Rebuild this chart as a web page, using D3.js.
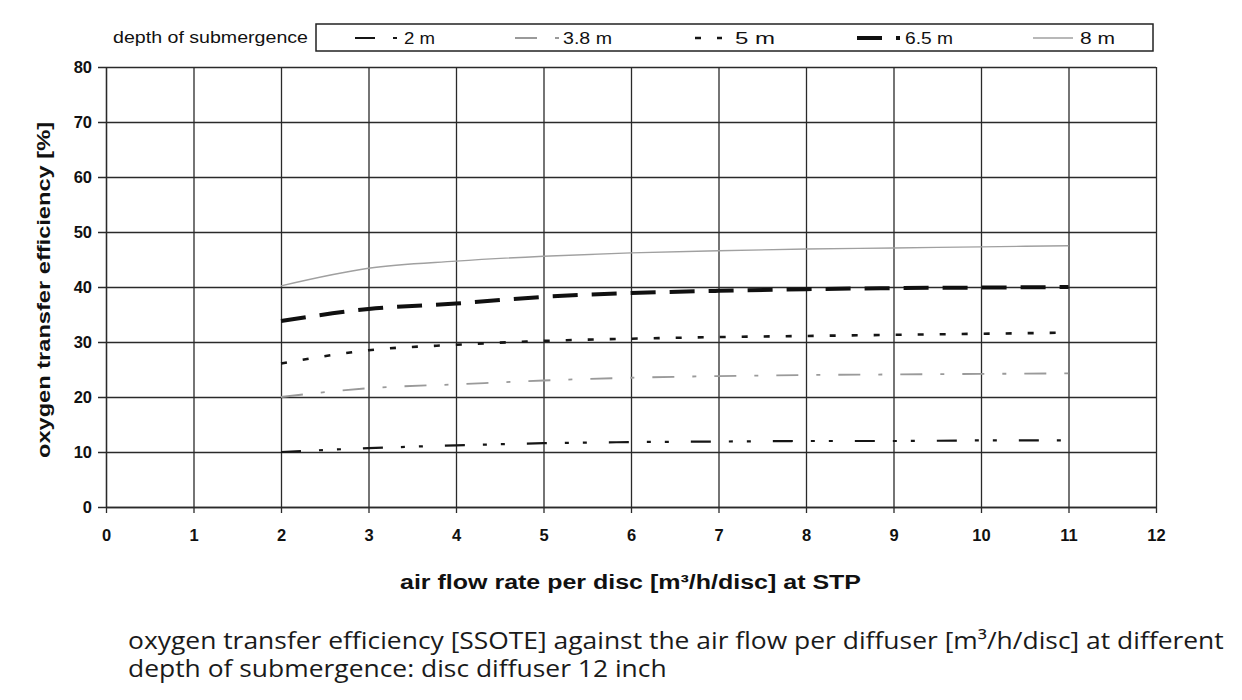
<!DOCTYPE html>
<html lang="en">
<head>
<meta charset="UTF-8">
<title>Oxygen transfer efficiency</title>
<script src="https://d3js.org/d3.v7.min.js"></script>
<style>
  body { margin: 0; background: #fff; }
  svg { display: block; background: #fff; }
</style>
</head>
<body>
<svg id="chart" width="1242" height="700"></svg>
<script>
// data
const airFlow = [2, 3, 4, 5, 6, 7, 8, 9, 10, 11];
const depth2 = [10.0, 10.7, 11.2, 11.6, 11.8, 11.9, 12.0, 12.0, 12.1, 12.1];
const depth38 = [20.0, 21.6, 22.3, 23.0, 23.5, 23.8, 24.0, 24.1, 24.2, 24.3];
const depth5 = [26.1, 28.5, 29.5, 30.2, 30.6, 30.9, 31.1, 31.3, 31.5, 31.7];
const depth65 = [33.8, 36.0, 37.0, 38.2, 38.9, 39.3, 39.6, 39.8, 39.9, 40.0];
const depth8 = [40.2, 43.4, 44.7, 45.6, 46.2, 46.6, 46.9, 47.1, 47.3, 47.5];
const seriesNames = ["2 m", "3.8 m", "5 m", "6.5 m", "8 m"];
const xTicks = d3.range(0, 13, 1);
const yTicks = d3.range(0, 81, 10);

const styles = {
  "2 m":   { color: "#151515", width: 2.2, dash: "20,18,4,14,4,22" },
  "3.8 m": { color: "#9a9a9a", width: 1.8, dash: "22,18,4,18" },
  "5 m":   { color: "#151515", width: 2.6, dash: "6,16" },
  "6.5 m": { color: "#101010", width: 4,   dash: "25,14" },
  "8 m":   { color: "#a0a0a0", width: 1.4, dash: null }
};

const series = [depth2, depth38, depth5, depth65, depth8].map((vals, i) => ({
  name: seriesNames[i],
  points: vals.map((v, j) => ({ x: airFlow[j], y: v }))
}));

const svg = d3.select("#chart");
const x = d3.scaleLinear().domain([0, 12]).range([106, 1156]);
const y = d3.scaleLinear().domain([0, 80]).range([507, 67]);
const plotH = y(0) - y(80);
const plotW = x(12) - x(0);
const sans = "'Liberation Sans', Arial, sans-serif";

// grid + x axis
const gx = svg.append("g")
  .attr("transform", `translate(0,${y(0)})`)
  .call(d3.axisBottom(x).tickValues(xTicks).tickSize(-plotH).tickSizeOuter(0).tickPadding(22));
gx.selectAll(".tick line").attr("y1", 6).attr("stroke", "#2a2a2a").attr("stroke-width", 1.3);
gx.select(".domain").attr("stroke", "#2a2a2a").attr("stroke-width", 1.3);
gx.selectAll("text")
  .style("font-family", sans).style("font-weight", "bold")
  .style("font-size", "16.5px").attr("fill", "#111");

// grid + y axis
const gy = svg.append("g")
  .attr("transform", `translate(${x(0)},0)`)
  .call(d3.axisLeft(y).tickValues(yTicks).tickSize(-plotW).tickSizeOuter(0).tickPadding(14));
gy.selectAll(".tick line").attr("x1", -8).attr("stroke", "#2a2a2a").attr("stroke-width", 1.3);
gy.select(".domain").attr("stroke", "#2a2a2a").attr("stroke-width", 1.3);
gy.selectAll("text")
  .style("font-family", sans).style("font-weight", "bold")
  .style("font-size", "16.5px").attr("fill", "#111");

// curves
const line = d3.line()
  .x(d => x(d.x))
  .y(d => y(d.y))
  .curve(d3.curveMonotoneX);

svg.append("g").selectAll("path")
  .data(series)
  .join("path")
  .attr("d", d => line(d.points))
  .attr("fill", "none")
  .attr("stroke", d => styles[d.name].color)
  .attr("stroke-width", d => styles[d.name].width)
  .attr("stroke-dasharray", d => styles[d.name].dash);

// axis titles
svg.append("text")
  .attr("x", 400).attr("y", 589)
  .attr("textLength", 461).attr("lengthAdjust", "spacingAndGlyphs")
  .style("font-family", sans).style("font-weight", "bold").style("font-size", "20px")
  .attr("fill", "#111")
  .text("air flow rate per disc [m³/h/disc] at STP");

svg.append("text")
  .attr("transform", "translate(50,290) rotate(-90)")
  .attr("x", -168).attr("y", 0)
  .attr("textLength", 336).attr("lengthAdjust", "spacingAndGlyphs")
  .style("font-family", sans).style("font-weight", "bold").style("font-size", "19px")
  .attr("fill", "#111")
  .text("oxygen transfer efficiency [%]");

// legend
svg.append("text")
  .attr("x", 113).attr("y", 43)
  .attr("textLength", 195).attr("lengthAdjust", "spacingAndGlyphs")
  .style("font-family", sans).style("font-size", "16px").attr("fill", "#111")
  .text("depth of submergence");

svg.append("rect")
  .attr("x", 316).attr("y", 24).attr("width", 837).attr("height", 27)
  .attr("fill", "none").attr("stroke", "#222").attr("stroke-width", 1.5);

const legendPos = [
  { name: "2 m",   x1: 355, x2: 397, tx: 404, tw: 31 },
  { name: "3.8 m", x1: 515, x2: 559, tx: 563, tw: 49 },
  { name: "5 m",   x1: 695, x2: 722, tx: 735, tw: 40 },
  { name: "6.5 m", x1: 857, x2: 900, tx: 905, tw: 48 },
  { name: "8 m",   x1: 1033, x2: 1073, tx: 1080, tw: 35 }
];

const leg = svg.append("g").selectAll("g")
  .data(legendPos)
  .join("g");

leg.append("line")
  .attr("x1", d => d.x1).attr("x2", d => d.x2)
  .attr("y1", 38).attr("y2", 38)
  .attr("stroke", d => styles[d.name].color)
  .attr("stroke-width", d => styles[d.name].width)
  .attr("stroke-dasharray", d => styles[d.name].dash);

leg.append("text")
  .attr("x", d => d.tx).attr("y", 44)
  .attr("textLength", d => d.tw).attr("lengthAdjust", "spacingAndGlyphs")
  .style("font-family", sans).style("font-size", "16px").attr("fill", "#111")
  .text(d => d.name);

// caption below the chart, stretched to the scanned width
const caption = svg.append("g");
const capLines = [
  "oxygen transfer efficiency [SSOTE] against the air flow per diffuser [m³/h/disc] at different",
  "depth of submergence: disc diffuser 12 inch"
];
caption.selectAll("text")
  .data(capLines)
  .join("text")
  .attr("x", 0).attr("y", (d, i) => 649 + i * 28)
  .style("font-family", "'Open Sans', 'Noto Sans', sans-serif")
  .style("font-size", "23px").style("font-weight", "500").attr("fill", "#1a1a1a")
  .text(d => d);
const natural = caption.select("text").node().getComputedTextLength();
caption.attr("transform", `translate(128,0) scale(${1096 / natural},1)`);
</script>
</body>
</html>
